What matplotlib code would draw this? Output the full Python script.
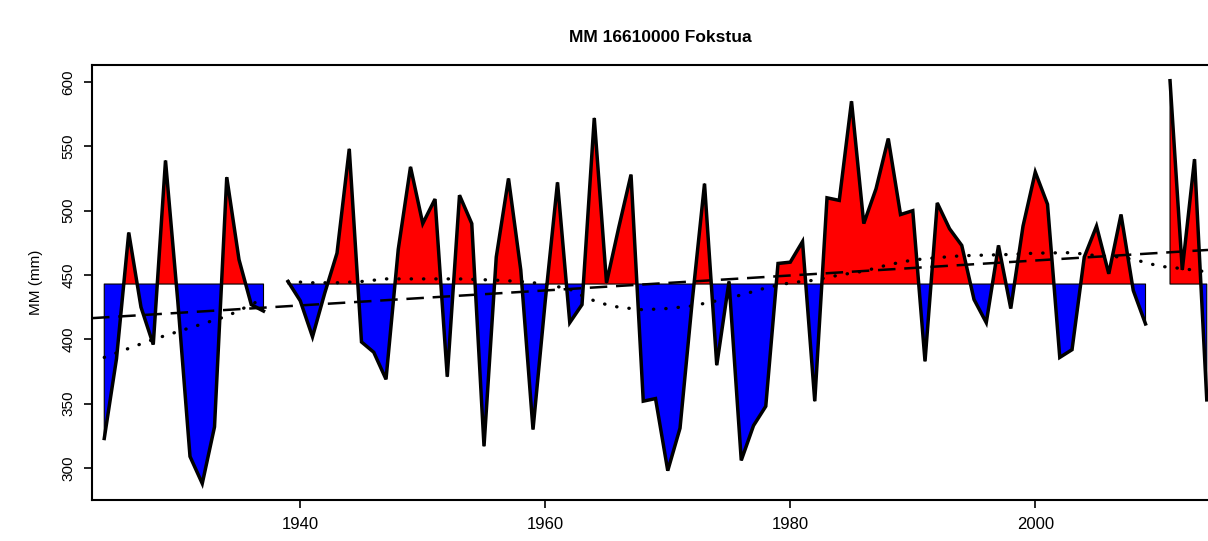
import numpy as np
import matplotlib
matplotlib.use("Agg")
import matplotlib.pyplot as plt

plt.rcParams['font.family'] = ['Liberation Sans', 'DejaVu Sans']

# annual values (mm), NaN = missing year
years = np.arange(1924, 2015)
mm = [323, 385, 483, 425, 396, 539, 430, 309, 288, 332,
      526, 462, 427, 422, np.nan, 445, 430, 402, 436, 467,
      548, 398, 390, 369, 470, 534, 490, 509, 371, 512,
      490, 317, 464, 525, 454, 330, 430, 522, 413, 427,
      572, 444, 487, 528, 352, 354, 298, 331, 430, 521,
      380, 445, 306, 333, 348, 459, 460, 476, 352, 510,
      508, 585, 490, 517, 556, 497, 500, 383, 506, 486,
      473, 431, 413, 473, 424, 488, 530, 505, 386, 392,
      464, 488, 451, 497, 438, 412, np.nan, 601, 454, 540,
      353]
mm = np.array(mm, dtype=float)
mean_level = 443

# linear trend (dashed)
trend_years = [1923, 2014.1]
trend_vals = [416.5, 469.5]

# smoothed curve (dotted)
smooth_years = [1924, 1926, 1928, 1930, 1932, 1934, 1936, 1937, 1938,
                1939, 1941, 1943, 1945, 1947, 1950, 1953, 1956, 1958, 1960,
                1962, 1963, 1964, 1965, 1966, 1967, 1968, 1970, 1972, 1974,
                1976, 1978, 1980, 1982, 1984, 1986, 1988, 1990, 1992, 1994,
                1998, 2000, 2003, 2005, 2007, 2008.5, 2009.4, 2010.5, 2012, 2014]
smooth_vals = [386, 393, 400, 406, 412, 418, 427, 432, np.nan,
               445, 444, 444, 445, 447, 447, 447, 446, 445, 443,
               439, 434, 430, 427, 425, 424, 423, 424, 426, 430,
               434.5, 440, 444, 446, 450, 453, 458, 461.7, 463.5, 465,
               466, 467, 467.4, 465, 464, 461, 458.6, 456.5, 455, 452.5]

fig = plt.figure(figsize=(12.08, 5.41), dpi=100)
ax = fig.add_axes([92 / 1208, 1 - 500 / 541, 1 - 92 / 1208, 435 / 541])

ax.fill_between(years, mm, mean_level, where=mm >= mean_level, interpolate=True,
                facecolor='#ff0000', edgecolor='black', linewidth=0.8)
ax.fill_between(years, mm, mean_level, where=mm <= mean_level, interpolate=True,
                facecolor='#0000ff', edgecolor='black', linewidth=0.8)
ax.plot(years, mm, color='black', linewidth=2.5, solid_joinstyle='miter')

ax.plot(trend_years, trend_vals, color='black', linewidth=1.8,
        linestyle=(0, (7, 3.5)))
ax.plot(smooth_years, smooth_vals, color='black', linewidth=2.4,
        linestyle=(0, (0.1, 3.6)), dash_capstyle='round')

ax.set_xlim(1923.0, 2014.1)
ax.set_ylim(275.2, 613.2)
ax.set_xticks([1940, 1960, 1980, 2000])
ax.set_yticks([300, 350, 400, 450, 500, 550, 600])
ax.tick_params(direction='out', length=6, width=1.2, pad=6)
ax.tick_params(axis='x', labelsize=12)
ax.tick_params(axis='y', labelsize=11)
plt.setp(ax.get_yticklabels(), rotation=90, va='center')
for s in ['left', 'top', 'bottom']:
    ax.spines[s].set_linewidth(1.5)
ax.spines['right'].set_visible(False)

ax.set_ylabel('MM (mm)', fontsize=11, labelpad=13)
fig.text(660 / 1208, 1 - 38 / 541, 'MM 16610000 Fokstua', ha='center', va='center',
         fontsize=12.5, fontweight='bold')

fig.savefig('out.png', dpi=100)
